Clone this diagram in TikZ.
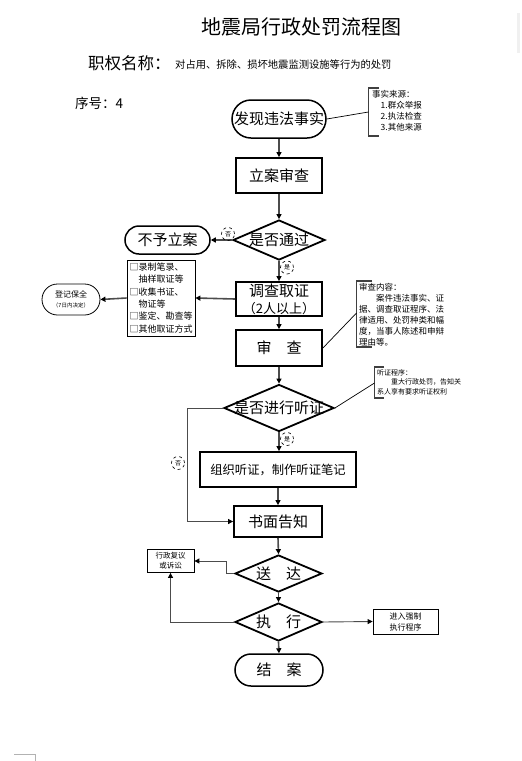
\documentclass[tikz,border=0pt]{standalone}
\usepackage{fontspec}
\setmainfont{Noto Sans CJK SC}
\usetikzlibrary{arrows.meta,shapes.geometric,shapes.misc}
\newcommand{\fs}[2]{\fontsize{#1}{#2}\selectfont}
\begin{document}
\begin{tikzpicture}[x=1pt,y=-1pt,
  mainbox/.style={draw, line width=1.8pt, inner sep=0pt, align=center, font=\fs{15}{18}},
  thinbox/.style={draw, line width=0.8pt, inner sep=0pt, align=center},
  stadium/.style={rounded rectangle, draw, line width=1.5pt, inner sep=0pt, font=\fs{15}{18}},
  dia/.style={diamond, draw, line width=1.8pt, inner sep=0pt},
  dtext/.style={font=\fs{15}{18}},
  conn/.style={draw=gray!60!black, line width=1.6pt, -{Triangle[length=5pt,width=5pt,color=black]}},
  thinconn/.style={draw=gray!60!black, line width=0.9pt, -{Triangle[length=5pt,width=5pt,color=black]}},
  yesno/.style={circle, draw, dashed, line width=0.6pt, minimum size=13pt, inner sep=0pt, font=\fs{6}{6}},
  note/.style={anchor=north west, inner sep=0pt, align=left},
  bracket/.style={draw=gray!50!black, line width=1.4pt},
  pointer/.style={draw=black, line width=0.7pt}
]
\useasboundingbox (0,0) rectangle (522,761);
\fill[gray!12] (517,13) rectangle (520,53);
\draw[gray!60, line width=1pt] (14,754) -- (35,754) -- (35,761);

% header
\node[font=\fs{20}{24}] (title) at (301,27) {地震局行政处罚流程图};
\node[anchor=west, inner sep=0pt, font=\fs{16.5}{20}] (zq) at (88,63) {职权名称：};
\node[anchor=west, inner sep=0pt, font=\fs{10.3}{12}] (zqt) at (175,65) {对占用、拆除、损坏地震监测设施等行为的处罚};
\node[anchor=west, inner sep=0pt, font=\fs{13.5}{16}] (xh) at (75,103) {序号：4};

% main column
\node[stadium, minimum width=94pt, minimum height=38pt] (start) at (279,119) {发现违法事实};
\node[mainbox, minimum width=86pt, minimum height=35pt] (lian) at (279,175.5) {立案审查};
\node[dia, minimum width=92pt, minimum height=40pt, label={[dtext]center:是否通过}] (d1) at (279,240) {};
\node[stadium, minimum width=85pt, minimum height=28pt] (buyu) at (167.5,240) {不予立案};
\node[mainbox, minimum width=86pt, minimum height=34pt] (diaocha) at (279,299) {调查取证\\[-1pt]{\fs{13}{15}（2人以上）}};
\node[thinbox, minimum width=68pt, minimum height=76pt, align=left, font=\fs{9}{12.3}] (lbox) at (161,298)
  {□录制笔录、\\　抽样取证等\\□收集书证、\\　物证等\\□鉴定、勘查等\\□其他取证方式};
\node[rounded rectangle, draw, line width=0.8pt, minimum width=58pt, minimum height=31pt, inner sep=0pt, align=center, font=\fs{8}{10}] (bq) at (71,299.5)
  {登记保全\\{\fs{5.5}{7}（7日内决定）}};
\node[mainbox, minimum width=86pt, minimum height=36pt] (shencha) at (279,348) {审　查};
\node[dia, minimum width=110pt, minimum height=47pt, label={[dtext]center:是否进行听证}] (d2) at (279,408) {};
\node[mainbox, minimum width=156pt, minimum height=35pt, font=\fs{12.3}{15}] (zuzhi) at (278,469.5) {组织听证，制作听证笔记};
\node[mainbox, minimum width=88pt, minimum height=31pt] (shumian) at (278,521.5) {书面告知};
\node[dia, minimum width=87pt, minimum height=37pt, label={[dtext]center:送　达}] (d3) at (278.5,573.5) {};
\node[thinbox, minimum width=47pt, minimum height=23pt, font=\fs{7.5}{10}] (fuyi) at (170.5,561) {行政复议\\或诉讼};
\node[dia, minimum width=87pt, minimum height=38pt, label={[dtext]center:执　行}] (d4) at (278.5,622) {};
\node[thinbox, minimum width=65pt, minimum height=25pt, font=\fs{8}{11}] (qz) at (405.5,621.5) {进入强制\\执行程序};
\node[stadium, minimum width=88pt, minimum height=32pt] (jiean) at (279,670) {结　案};

% notes
\draw[bracket] (379,88) -- (368.5,88) -- (368.5,136) -- (379,136);
\node[note, font=\fs{8.5}{11}] (n1) at (372,90) {事实来源：\\　1.群众举报\\　2.执法检查\\　3.其他来源};
\coordinate (b1) at (368.5,112);
\draw[pointer] (start.east) -- (b1);

\draw[bracket] (372,281) -- (356.5,281) -- (356.5,347) -- (372,347);
\node[note, font=\fs{8.5}{11}] (n2) at (359,283) {审查内容：\\　　案件违法事实、证\\据、调查取证程序、法\\律适用、处罚种类和幅\\度，当事人陈述和申辩\\理由等。};
\coordinate (b2) at (356.5,313);
\draw[pointer] (shencha.east) -- (b2);

\draw[bracket] (384,367) -- (374.5,367) -- (374.5,398) -- (384,398);
\node[note, font=\fs{7}{9.5}] (n3) at (377,369) {听证程序：\\　　重大行政处罚，告知关\\系人享有要求听证权利};
\coordinate (b3) at (374.5,383);
\draw[pointer] (d2.east) -- (b3);

% connectors
\draw[conn] (start.south) -- (lian.north);
\draw[conn] (lian.south) -- (d1.north);
\draw[conn] (d1.west) -- (buyu.east);
\node[yesno] (no1) at (228,234) {否};
\draw[conn] (d1.south) -- (diaocha.north);
\node[yesno] (yes1) at (287,267.5) {是};
\draw[conn] (diaocha.west) -- (lbox.east);
\draw[conn] (lbox.west) -- (bq.east);
\draw[conn] (diaocha.south) -- (shencha.north);
\draw[conn] (shencha.south) -- (d2.north);
\draw[conn] (d2.south) -- (zuzhi.north -| d2.south);
\node[yesno] (yes2) at (287,439) {是};
\draw[conn] (zuzhi.south -| shumian.north) -- (shumian.north);
\coordinate (c2) at (187,408);
\draw[thinconn] (d2.west) -- (c2) |- (shumian.west);
\node[yesno] (no2) at (178,463) {否};
\draw[conn] (shumian.south) -- (d3.north);
\coordinate (c3) at (226,573.5);
\draw[thinconn] (d3.west) -- (c3) |- (fuyi.east);
\draw[conn] (d3.south) -- (d4.north);
\draw[thinconn] (d4.west) -| (fuyi.south);
\draw[thinconn] (d4.east) -- (qz.west);
\draw[conn] (d4.south) -- (jiean.north);
\end{tikzpicture}
\end{document}
